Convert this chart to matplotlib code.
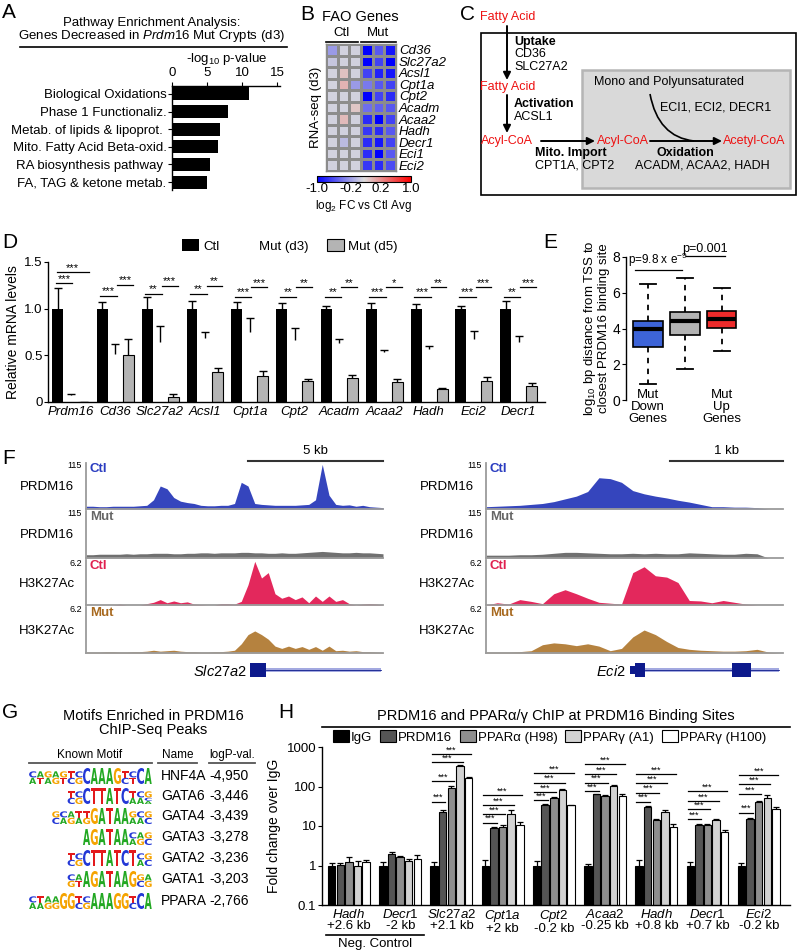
import numpy as np
import matplotlib
matplotlib.use("Agg")
import matplotlib.pyplot as plt
from matplotlib.colors import LinearSegmentedColormap
from matplotlib.patches import Rectangle, PathPatch, FancyArrowPatch
from matplotlib.path import Path
from matplotlib.textpath import TextPath
from matplotlib.font_manager import FontProperties
from matplotlib.transforms import Affine2D

plt.rcParams["font.family"] = ["Liberation Sans", "DejaVu Sans"]
plt.rcParams["font.size"] = 8.5
plt.rcParams["mathtext.fontset"] = "custom"
plt.rcParams["mathtext.rm"] = "Liberation Sans"
plt.rcParams["mathtext.it"] = "Liberation Sans:italic"
plt.rcParams["mathtext.bf"] = "Liberation Sans:bold"
plt.rcParams["axes.linewidth"] = 1.0

W, H = 800, 952

# ---------------- A: pathway enrichment ----------------
pathways = ["Biological Oxidations", "Phase 1 Functionaliz.",
            "Metab. of lipids & lipoprot. ", "Mito. Fatty Acid Beta-oxid.",
            "RA biosynthesis pathway ", "FA, TAG & ketone metab."]
pathway_logp = [11.0, 8.0, 6.8, 6.6, 5.4, 5.0]

# ---------------- B: FAO heatmap (log2 FC vs Ctl avg) ----------------
fao_genes = ["Cd36", "Slc27a2", "Acsl1", "Cpt1a", "Cpt2", "Acadm",
             "Acaa2", "Hadh", "Decr1", "Eci1", "Eci2"]
fao_fc = [
    [-0.30, -0.05, -0.05, -1.00, -0.60, -0.90],
    [-0.10, -0.05, -0.05, -1.00, -0.70, -1.00],
    [-0.05, 0.12, -0.05, -0.70, -0.85, -0.90],
    [-0.05, 0.18, -0.30, -0.45, -0.60, -0.70],
    [-0.05, -0.05, -0.05, -1.00, -0.70, -0.80],
    [-0.05, -0.05, 0.10, -0.50, -0.55, -0.60],
    [-0.05, 0.15, -0.05, -0.80, -1.00, -0.70],
    [-0.05, -0.05, -0.05, -0.75, -0.80, -0.60],
    [-0.05, -0.15, -0.05, -0.80, -0.90, -0.70],
    [-0.05, -0.05, -0.05, -0.80, -1.00, -0.60],
    [-0.05, -0.05, -0.05, -0.75, -0.80, -0.65],
]
fao_cbar_ticks = [-1.0, -0.28, 0.36, 1.0]
fao_cbar_labels = ["-1.0", "-0.2", "0.2", "1.0"]

# ---------------- D: qPCR ----------------
d_genes = ["Prdm16", "Cd36", "Slc27a2", "Acsl1", "Cpt1a", "Cpt2",
           "Acadm", "Acaa2", "Hadh", "Eci2", "Decr1"]
ctl_mean = [1.0] * 11
ctl_err = [0.22, 0.07, 0.13, 0.08, 0.07, 0.06, 0.03, 0.06, 0.05, 0.03, 0.08]
d3_mean = [0.07, 0.51, 0.64, 0.69, 0.755, 0.66, 0.63, 0.54, 0.57, 0.68, 0.64]
d3_err = [0.02, 0.11, 0.17, 0.065, 0.145, 0.13, 0.05, 0.02, 0.03, 0.08, 0.07]
d5_mean = [0.005, 0.50, 0.05, 0.32, 0.28, 0.22, 0.255, 0.21, 0.14, 0.22, 0.17]
d5_err = [0.0, 0.17, 0.035, 0.04, 0.05, 0.025, 0.03, 0.04, 0.01, 0.05, 0.03]
sig_low = ["***", "***", "**", "**", "***", "**", "**", "***", "***", "***", "**"]
sig_high = ["***", "***", "***", "**", "***", "**", "**", "*", "**", "***", "***"]
sig_low_y = [1.27, 1.14, 1.16, 1.16, 1.13, 1.13, 1.13, 1.13, 1.13, 1.13, 1.13]
sig_high_y = [1.39, 1.255, 1.245, 1.245, 1.23, 1.23, 1.23, 1.23, 1.23, 1.23, 1.23]

# ---------------- E: distance boxplots ----------------
e_groups = ["Mut\nDown\nGenes", "", "Mut\nUp\nGenes"]
e_q1 = [2.95, 3.65, 4.05]
e_med = [3.95, 4.40, 4.55]
e_q3 = [4.40, 4.95, 5.00]
e_lo = [0.90, 1.75, 2.75]
e_hi = [6.50, 6.85, 6.25]
e_colors = ["#3d64d8", "#b3b3b3", "#ee2b2b"]

# ---------------- F: ChIP-seq tracks ----------------
slc_kb = np.arange(0, 11.01, 0.25)
slc_ctl_prdm16 = [0.06, 0.06, 0.05, 0.05, 0.06, 0.06, 0.06, 0.06, 0.07, 0.08,
                  0.20, 0.50, 0.44, 0.25, 0.17, 0.14, 0.12, 0.08, 0.07, 0.07,
                  0.08, 0.08, 0.12, 0.58, 0.50, 0.12, 0.10, 0.09, 0.08, 0.08,
                  0.08, 0.08, 0.09, 0.10, 0.20, 0.97, 0.30, 0.10, 0.08, 0.09,
                  0.06, 0.08, 0.05, 0.04, 0.03]
slc_mut_prdm16 = [0.07, 0.07, 0.08, 0.08, 0.08, 0.08, 0.09, 0.08, 0.09, 0.09,
                  0.10, 0.10, 0.10, 0.09, 0.09, 0.10, 0.10, 0.11, 0.11, 0.10,
                  0.11, 0.11, 0.11, 0.12, 0.12, 0.11, 0.11, 0.10, 0.10, 0.11,
                  0.10, 0.10, 0.11, 0.12, 0.13, 0.14, 0.13, 0.12, 0.11, 0.11,
                  0.12, 0.11, 0.11, 0.10, 0.09]
slc_ctl_h3k27ac = [0.0, 0.0, 0.0, 0.0, 0.0, 0.02, 0.0, 0.0, 0.0, 0.03,
                   0.06, 0.12, 0.05, 0.09, 0.05, 0.07, 0.02, 0.01, 0.0, 0.0,
                   0.03, 0.03, 0.02, 0.08, 0.45, 0.97, 0.60, 0.72, 0.25, 0.15,
                   0.20, 0.12, 0.18, 0.05, 0.20, 0.08, 0.20, 0.08, 0.12, 0.03,
                   0.0, 0.02, 0.03, 0.02, 0.0]
slc_mut_h3k27ac = [0.02, 0.02, 0.02, 0.03, 0.03, 0.02, 0.02, 0.03, 0.03, 0.04,
                   0.06, 0.04, 0.05, 0.06, 0.04, 0.03, 0.03, 0.02, 0.02, 0.03,
                   0.03, 0.04, 0.06, 0.20, 0.40, 0.48, 0.40, 0.30, 0.15, 0.10,
                   0.15, 0.10, 0.14, 0.08, 0.14, 0.06, 0.15, 0.05, 0.06, 0.04,
                   0.05, 0.03, 0.03, 0.02, 0.01]
eci_kb = np.arange(0, 2.61, 0.1)
eci_ctl_prdm16 = [0.05, 0.06, 0.07, 0.08, 0.10, 0.12, 0.16, 0.22, 0.28, 0.38,
                  0.68, 0.66, 0.58, 0.40, 0.33, 0.28, 0.24, 0.19, 0.15, 0.10,
                  0.05, 0.05, 0.04, 0.04, 0.03, 0.0, 0.0]
eci_mut_prdm16 = [0.06, 0.06, 0.06, 0.07, 0.07, 0.08, 0.10, 0.12, 0.12, 0.11,
                  0.10, 0.09, 0.09, 0.10, 0.09, 0.10, 0.09, 0.09, 0.11, 0.10,
                  0.09, 0.08, 0.08, 0.10, 0.09, 0.0, 0.0]
eci_ctl_h3k27ac = [0.0, 0.05, 0.02, 0.12, 0.08, 0.03, 0.25, 0.34, 0.25, 0.15,
                   0.06, 0.04, 0.02, 0.72, 0.85, 0.65, 0.62, 0.50, 0.10, 0.09,
                   0.05, 0.10, 0.06, 0.02, 0.0, 0.0, 0.0]
eci_mut_h3k27ac = [0.02, 0.02, 0.02, 0.03, 0.05, 0.18, 0.22, 0.20, 0.16, 0.20,
                   0.15, 0.05, 0.10, 0.35, 0.50, 0.40, 0.25, 0.12, 0.08, 0.06,
                   0.05, 0.04, 0.04, 0.05, 0.08, 0.02, 0.0]

# ---------------- G: motifs ----------------
motif_names = ["HNF4A", "GATA6", "GATA4", "GATA3", "GATA2", "GATA1", "PPARA"]
motif_logp = ["-4,950", "-3,446", "-3,439", "-3,278", "-3,236", "-3,203", "-2,766"]
motif_logos = ["[CA][AT][GA][AG][GT][TC][CG]CAAAG[TC][CT]CA",
               "[TC][CG]CTTATC[TA][CA][GCA]",
               "[GC][CA][AG][TA][TG]GATAA[GA][CA][GC]",
               "AGATAA[CA][AG][GC]",
               "[TC][CG]CTTATCT[CA][GC]",
               "[CG][AT]AGATAAG[GC][AG]",
               "[CA][TA][AG][AG]GG[TC][CG]AAAGG[TC]CA"]

# ---------------- H: ChIP-qPCR ----------------
chip_gene = ["Hadh", "Decr1", "Slc27a2", "Cpt1a", "Cpt2", "Acaa2", "Hadh", "Decr1", "Eci2"]
chip_site = ["+2.6 kb", "-2 kb", "+2.1 kb", "+2 kb", "-0.2 kb", "-0.25 kb", "+0.8 kb", "+0.7 kb", "-0.2 kb"]
chip_labels = ["IgG", "PRDM16", "PPARα (H98)", "PPARγ (A1)", "PPARγ (H100)"]
chip_igg = [1, 1, 1, 1, 1, 1, 1, 1, 1]
chip_igg_err = [0.15, 0.2, 0.2, 0.4, 0.3, 0.1, 0.4, 0.25, 0.15]
chip_prdm16 = [1.05, 1.9, 22, 9.1, 34, 63, 30, 10.4, 15.3]
chip_prdm16_err = [0.1, 0.35, 3, 0.4, 1.5, 2, 1.2, 0.6, 0.8]
chip_ppara = [1.25, 1.6, 92, 9.2, 51, 57, 14.5, 10.4, 40.8]
chip_ppara_err = [0.35, 0.15, 12, 1.3, 4, 5, 0.6, 0.6, 1.5]
chip_pparg_a1 = [1.0, 1.3, 335, 20.5, 82, 104, 23, 14, 52]
chip_pparg_a1_err = [0.3, 0.2, 12, 4.5, 5, 4, 3, 0.8, 10]
chip_pparg_h100 = [1.2, 1.45, 168, 10.6, 34, 57, 9.6, 7.2, 27.5]
chip_pparg_h100_err = [0.2, 0.4, 5, 2, 1, 6, 1.4, 0.8, 2.5]
chip_sig_y = [[41.6, 137, 407, 653], [12.2, 19.8, 34.2, 60], [45, 73, 126, 218],
              [78, 126, 210, 362], [41.6, 70, 121, 206], [14.8, 26.5, 43, 75],
              [21.8, 64, 114, 197]]

fig = plt.figure(figsize=(W / 100, H / 100), dpi=100)


def px_axes(x0, y0, x1, y1):
    return fig.add_axes([x0 / W, 1 - y1 / H, (x1 - x0) / W, (y1 - y0) / H])


def up_err(ax, x, mean, err, capw, lw=1.0):
    # one-sided (upper) error bars, cap only on top
    tops = np.asarray(mean) + np.asarray(err)
    ax.vlines(x, mean, tops, color="black", lw=lw)
    ax.plot(x, tops, ls="none", marker="_", ms=capw, mew=lw, color="black")


# ---- A ----
axA = px_axes(172, 86, 280, 190)
axA.barh(np.arange(len(pathways)), pathway_logp, height=0.74, color="black")
axA.set_xlim(0, 15.43)
axA.set_ylim(5.45, -0.45)
axA.xaxis.tick_top()
axA.set_xticks([0, 5, 10, 15])
axA.set_yticks(np.arange(len(pathways)))
axA.set_yticklabels(pathways)
axA.tick_params(length=3, pad=1, labelsize=9.5)
axA.tick_params(axis="x", labelsize=9.5, pad=2)
axA.spines["right"].set_visible(False)
axA.spines["bottom"].set_visible(False)

# ---- B ----
fao_cmap = LinearSegmentedColormap.from_list(
    "fao", [(0, "#0000ff"), (0.5, "#dcdcdc"), (1, "#ff0000")])
axB = px_axes(326, 44, 396, 171)
mesh = axB.pcolormesh(np.array(fao_fc), cmap=fao_cmap, vmin=-1, vmax=1,
                      edgecolors="#8c8c8c", linewidth=0.8)
axB.set_ylim(len(fao_genes), 0)
axB.set_xticks([])
axB.yaxis.tick_right()
axB.set_yticks(np.arange(len(fao_genes)) + 0.5)
axB.set_yticklabels(fao_genes, fontstyle="italic", fontsize=9.5)
axB.tick_params(axis="y", length=0, pad=2)
for s in axB.spines.values():
    s.set_color("#8c8c8c")
axB.set_ylabel("RNA-seq (d3)", labelpad=3, fontsize=9.5)
cax = px_axes(317, 176, 411, 182)
cb = fig.colorbar(mesh, cax=cax, orientation="horizontal", ticks=fao_cbar_ticks)
cb.ax.set_xticklabels(fao_cbar_labels)
cb.ax.tick_params(length=0, pad=1, labelsize=9.5)
cb.outline.set_linewidth(0.8)

# ---- D ----
axD = px_axes(48, 262, 545, 402)
gx = np.arange(len(d_genes))
bw = 0.245
b1 = axD.bar(gx + 0.123, ctl_mean, bw, color="black", label="Ctl")
b2 = axD.bar(gx + 0.413, d3_mean, bw, color="white", label="Mut (d3)")
b3 = axD.bar(gx + 0.703, d5_mean, bw, color="#b4b4b4", edgecolor="black", linewidth=0.8,
             label="Mut (d5)")
up_err(axD, gx + 0.123, ctl_mean, ctl_err, 6)
up_err(axD, gx + 0.413, d3_mean, d3_err, 6)
up_err(axD, gx + 0.703, d5_mean, d5_err, 6)
for i in gx:
    lo = (i + 0.08, i + 0.45)
    hi = (i + 0.45, i + 0.80) if i > 0 else (i + 0.10, i + 0.82)
    axD.plot(lo, [sig_low_y[i]] * 2, color="black", lw=0.9, clip_on=False)
    axD.plot(hi, [sig_high_y[i]] * 2, color="black", lw=0.9, clip_on=False)
    axD.text(sum(lo) / 2, sig_low_y[i] - 0.005, sig_low[i], ha="center", va="bottom",
             fontsize=8, clip_on=False)
    axD.text(sum(hi) / 2, sig_high_y[i] - 0.005, sig_high[i], ha="center", va="bottom",
             fontsize=8, clip_on=False)
axD.set_xlim(-0.09, 11.0)
axD.set_ylim(0, 1.5)
axD.set_xticks(gx + 0.41)
axD.set_xticklabels(d_genes, fontstyle="italic", fontsize=9.5)
axD.set_yticks([0, 0.5, 1.0, 1.5])
axD.set_yticklabels(["0", "0.5", "1.0", "1.5"])
axD.tick_params(axis="x", length=0, pad=3)
axD.tick_params(axis="y", length=3, pad=1, labelsize=9.5)
axD.spines["top"].set_visible(False)
axD.spines["right"].set_visible(False)
axD.set_ylabel("Relative mRNA levels", fontsize=10, labelpad=3)
fig.legend([b1, b2, b3], ["Ctl", "Mut (d3)", "Mut (d5)"], loc="center left",
           bbox_to_anchor=(182 / W, 1 - 246 / H), ncol=3, frameon=False,
           handlelength=1.3, handleheight=1.0, handletextpad=0.3, columnspacing=1.4,
           borderpad=0, borderaxespad=0, fontsize=9.5)

# ---- E ----
axE = px_axes(626, 257, 742, 400)
e_stats = [dict(q1=e_q1[i], med=e_med[i], q3=e_q3[i], whislo=e_lo[i], whishi=e_hi[i],
                label=e_groups[i]) for i in range(3)]
bp = axE.bxp(e_stats, positions=[1, 2, 3], widths=0.8, capwidths=0.43,
             showfliers=False, patch_artist=True, manage_ticks=False,
             medianprops=dict(color="black", lw=3),
             whiskerprops=dict(ls=(0, (3, 3)), lw=1.3),
             capprops=dict(lw=1.3), boxprops=dict(lw=1.2))
for patch, c in zip(bp["boxes"], e_colors):
    patch.set_facecolor(c)
axE.set_xlim(0.41, 3.55)
axE.set_ylim(0, 8)
axE.set_xticks([])
axE.set_yticks([0, 2, 4, 6, 8])
axE.tick_params(axis="y", length=3, pad=1, labelsize=10)
for s in ["top", "right", "bottom"]:
    axE.spines[s].set_visible(False)
axE.set_ylabel("log$_{10}$ bp distance from TSS to\nclosest PRDM16 binding site",
               fontsize=9.5, labelpad=2, linespacing=1.0)
for i, lab in enumerate(e_groups):
    if lab:
        axE.text(i + 1, 0.6, lab, ha="center", va="top", fontsize=9.5, linespacing=1.0,
                 clip_on=False)
axE.plot([0.65, 1.92], [7.3, 7.3], color="black", lw=0.9, clip_on=False)
axE.text(1.28, 7.35, "p=9.8 x e$^{-9}$", ha="center", va="bottom", fontsize=8.5, clip_on=False)
axE.plot([2.03, 3.08], [8.05, 8.05], color="black", lw=0.9, clip_on=False)
axE.text(2.55, 8.1, "p=0.001", ha="center", va="bottom", fontsize=9, clip_on=False)

# ---- F ----
track_rows = [(463, 509), (511, 558), (560, 605), (607, 653)]
track_colors = ["#3545bd", "#707070", "#e3285c", "#b5823f"]
track_label_colors = ["#2a3cc0", "#666666", "#e0204f", "#a8691f"]
track_cond = ["Ctl", "Mut", "Ctl", "Mut"]
track_name = ["PRDM16", "PRDM16", "H3K27Ac", "H3K27Ac"]
track_max = ["115", "115", "6.2", "6.2"]
track_sets = [
    (86, 383, slc_kb, 11.0, [slc_ctl_prdm16, slc_mut_prdm16, slc_ctl_h3k27ac, slc_mut_h3k27ac]),
    (486, 783, eci_kb, 2.63, [eci_ctl_prdm16, eci_mut_prdm16, eci_ctl_h3k27ac, eci_mut_h3k27ac]),
]
for x0, x1, kb, span, tracks in track_sets:
    for (y0, y1), vals, col in zip(track_rows, tracks, track_colors):
        ax = px_axes(x0, y0, x1, y1)
        ax.fill_between(kb, 0, vals, color=col, lw=0)
        ax.set_xlim(0, span)
        ax.set_ylim(0, 1.0)
        ax.set_xticks([])
        ax.set_yticks([])
        ax.patch.set_alpha(0)
        for s in ["top", "right"]:
            ax.spines[s].set_visible(False)
        for s in ["left", "bottom"]:
            ax.spines[s].set_color("#9b9b9b")
            ax.spines[s].set_linewidth(1.3)

# ---- H ----
axH = px_axes(322, 747, 790, 905)
hx = np.arange(len(chip_gene))
step, hbw = 0.168, 0.145
chip_series = [(chip_igg, chip_igg_err, "black"), (chip_prdm16, chip_prdm16_err, "#555555"),
               (chip_ppara, chip_ppara_err, "#8e8e8e"), (chip_pparg_a1, chip_pparg_a1_err, "#d2d2d2"),
               (chip_pparg_h100, chip_pparg_h100_err, "white")]
hbars = []
for k, (vals, errs, col) in enumerate(chip_series):
    xs = hx + k * step + hbw / 2
    hbars.append(axH.bar(xs, vals, hbw, color=col, edgecolor="black", linewidth=0.8))
    up_err(axH, xs, vals, errs, 4, lw=0.9)
for j, ys in enumerate(chip_sig_y):
    i = j + 2
    for k, yv in enumerate(ys):
        xa = i + hbw / 2 - 0.05
        xb = i + (k + 1) * step + hbw / 2 + 0.05
        axH.plot([xa, xb], [yv, yv], color="black", lw=0.9)
        axH.text((xa + xb) / 2, yv * 0.97, "***", ha="center", va="bottom", fontsize=6.5)
axH.set_yscale("log")
axH.set_ylim(0.1, 1000)
axH.set_xlim(-0.117, 9.02)
axH.set_yticks([0.1, 1, 10, 100, 1000])
axH.set_yticklabels(["0.1", "1", "10", "100", "1000"])
axH.minorticks_off()
axH.set_xticks(hx + 0.41)
axH.set_xticklabels([f"$\\mathit{{{g}}}$\n{s}" for g, s in zip(chip_gene, chip_site)],
                    fontsize=9.5, linespacing=0.95)
axH.tick_params(axis="x", length=0, pad=2)
axH.tick_params(axis="y", length=3, pad=1, labelsize=9.5)
axH.spines["top"].set_visible(False)
axH.spines["right"].set_visible(False)
axH.set_ylabel("Fold change over IgG", fontsize=10, labelpad=4)
fig.legend(hbars, chip_labels, loc="center left", bbox_to_anchor=(333 / W, 1 - 737 / H),
           ncol=5, frameon=False, handlelength=1.2, handleheight=1.0, handletextpad=0.15,
           columnspacing=0.6, borderpad=0, borderaxespad=0, fontsize=9.5)

# ---------------- overlay: text, diagram, logos ----------------
ov = fig.add_axes([0, 0, 1, 1])
ov.set_xlim(0, W)
ov.set_ylim(H, 0)
ov.axis("off")
ov.patch.set_alpha(0)


def txt(x, y, s, **kw):
    kw.setdefault("va", "center")
    kw.setdefault("fontsize", 9)
    ov.text(x, y, s, **kw)


def hline(x0, x1, y, **kw):
    ov.plot([x0, x1], [y, y], color=kw.get("color", "black"), lw=kw.get("lw", 1.0))


for lab, x, y in [("A", 2, 13), ("B", 300, 14), ("C", 460, 14), ("D", 2, 243),
                  ("E", 543, 243), ("F", 2, 458), ("G", 2, 712), ("H", 278, 712)]:
    txt(x, y, lab, fontsize=15)

# A title
txt(152, 23, "Pathway Enrichment Analysis:", ha="center", fontsize=9.5)
txt(152, 36, "Genes Decreased in $\\mathit{Prdm16}$ Mut Crypts (d3)", ha="center", fontsize=9.5)
hline(20, 287, 47, lw=1.2)
txt(227, 59, "-log$_{10}$ p-value", ha="center", fontsize=9.5)

# B header
txt(360, 17, "FAO Genes", ha="center", fontsize=10.5)
txt(342, 33, "Ctl", ha="center", fontsize=9.5)
txt(378, 33, "Mut", ha="center", fontsize=9.5)
hline(326, 358, 42, lw=1.2)
hline(361, 396, 42, lw=1.2)
txt(364, 206, "log$_2$ FC vs Ctl Avg", ha="center", fontsize=8.5)

# C pathway diagram
RED = "#ee1111"
ov.add_patch(Rectangle((481, 33), 315, 162, fill=False, edgecolor="black", lw=1.2))
ov.add_patch(Rectangle((582, 70), 208, 118, facecolor="#d9d9d9", edgecolor="#b5b5b5", lw=1.8))


def arrow(p0, p1):
    ov.add_patch(FancyArrowPatch(p0, p1, arrowstyle="-|>", mutation_scale=11,
                                 color="black", lw=1.4, shrinkA=0, shrinkB=0))


txt(480, 17, "Fatty Acid", color=RED, fontsize=9)
arrow((507, 26), (507, 80))
txt(514, 42, "Uptake", fontweight="bold", fontsize=9)
txt(514, 54, "CD36", fontsize=9)
txt(514, 67, "SLC27A2", fontsize=9)
txt(480, 87, "Fatty Acid", color=RED, fontsize=9)
arrow((507, 95), (507, 133))
txt(514, 104, "Activation", fontweight="bold", fontsize=9)
txt(514, 117, "ACSL1", fontsize=9)
txt(481, 141, "Acyl-CoA", color=RED, fontsize=9)
arrow((541, 141), (595, 141))
txt(597, 141, "Acyl-CoA", color=RED, fontsize=9)
arrow((650, 141), (722, 141))
txt(723, 141, "Acetyl-CoA", color=RED, fontsize=9)
txt(535, 153, "Mito. Import", fontweight="bold", fontsize=9)
txt(535, 165, "CPT1A, CPT2", fontsize=9)
txt(685, 153, "Oxidation", fontweight="bold", fontsize=9, ha="center")
txt(702, 165, "ACADM, ACAA2, HADH", fontsize=9, ha="center")
txt(594, 82, "Mono and Polyunsaturated", fontsize=9)
txt(660, 107, "ECI1, ECI2, DECR1", fontsize=9)
ov.add_patch(PathPatch(Path([(650, 94), (658, 137), (694, 141)],
                            [Path.MOVETO, Path.CURVE3, Path.CURVE3]),
                       fill=False, edgecolor="black", lw=1.2))

# F labels, scale bars, gene models
for off in (0, 400):
    for (y0, y1), cond, name, mx, lc in zip(track_rows, track_cond, track_name,
                                             track_max, track_label_colors):
        txt(82 + off, y0 + 3, mx, ha="right", fontsize=6.5)
        txt(90 + off, y0 + 6, cond, color=lc, fontweight="bold", fontsize=9.5)
        txt(47 + off, y0 + 24, name, ha="center", fontsize=9.5)
hline(248, 383, 461, lw=1.5, color="#333333")
txt(315, 451, "5 kb", ha="center", fontsize=9.5)
hline(670, 783, 461, lw=1.5, color="#333333")
txt(727, 451, "1 kb", ha="center", fontsize=9.5)

NAVY = "#0d1a8c"
INTRON = "#a3a9e0"
txt(247, 671, "$\\mathit{Slc27a2}$", ha="right", fontsize=10.5)
ov.add_patch(Rectangle((266, 668), 115, 4, color=INTRON, lw=0))
hline(266, 381, 670, lw=0.6, color=NAVY)
ov.add_patch(Rectangle((250, 663), 16, 14, color=NAVY, lw=0))
txt(626, 671, "$\\mathit{Eci2}$", ha="right", fontsize=10.5)
ov.add_patch(Rectangle((645, 668), 134, 4, color=INTRON, lw=0))
hline(645, 779, 670, lw=0.6, color=NAVY)
ov.add_patch(Rectangle((630, 666), 6, 8, color=NAVY, lw=0))
ov.add_patch(Rectangle((635, 663), 10, 14, color=NAVY, lw=0))
ov.add_patch(Rectangle((732, 663), 19, 14, color=NAVY, lw=0))

# G motif table
txt(153, 716, "Motifs Enriched in PRDM16", ha="center", fontsize=10.5)
txt(153, 730, "ChIP-Seq Peaks", ha="center", fontsize=10.5)
txt(90, 755, "Known Motif", ha="center", fontsize=8.5)
txt(178, 755, "Name", ha="center", fontsize=8.5)
txt(209, 755, "logP-val.", fontsize=8.5)
hline(29, 152, 763, color="#555555", lw=1.3)
hline(158, 197, 763, color="#555555", lw=1.3)
hline(209, 255, 763, color="#555555", lw=1.3)

LOGO_FONT = FontProperties(family="DejaVu Sans", weight="bold")
LOGO_COLORS = {"A": "#22a822", "C": "#2438d6", "G": "#f5a300", "T": "#e31a1c"}


def draw_letter(ch, x, yb, w, h):
    tp = TextPath((0, 0), ch, size=1, prop=LOGO_FONT)
    ext = tp.get_extents()
    tr = (Affine2D().translate(-ext.x0, -ext.y0)
          .scale(w / ext.width, -h / ext.height).translate(x, yb))
    ov.add_patch(PathPatch(tr.transform_path(tp), facecolor=LOGO_COLORS[ch], edgecolor="none"))


def parse_logo(pattern):
    cols, i = [], 0
    while i < len(pattern):
        if pattern[i] == "[":
            j = pattern.index("]", i)
            cols.append(pattern[i + 1:j])
            i = j + 1
        else:
            cols.append(pattern[i])
            i += 1
    return cols


row_y = [776, 796, 816, 837, 858, 879, 901]
for name, val, logo, y in zip(motif_names, motif_logp, motif_logos, row_y):
    txt(161, y, name, fontsize=10)
    txt(209, y, val, fontsize=10)
    cols = parse_logo(logo)
    lw_ = 7.7
    x = 152 - lw_ * len(cols)
    yb = y + 8
    for col in cols:
        if len(col) == 1:
            draw_letter(col, x + 0.3, yb, lw_ - 0.6, 16)
        else:
            total = 13.0
            hs = [total * 0.5] + [total * 0.5 / (len(col) - 1)] * (len(col) - 1)
            top = yb - total
            for ch, hh in zip(col, hs):
                draw_letter(ch, x + 0.3, top + hh, lw_ - 0.6, hh - 0.3)
                top += hh
        x += lw_

# H title and Neg. Control bracket
txt(556, 716, "PRDM16 and PPARα/γ ChIP at PRDM16 Binding Sites", ha="center", fontsize=10.5)
hline(322, 790, 727, lw=1.2)
hline(326, 424, 935, lw=1.2)
txt(375, 944, "Neg. Control", ha="center", fontsize=9.5)

fig.savefig("out.png", dpi=100)
